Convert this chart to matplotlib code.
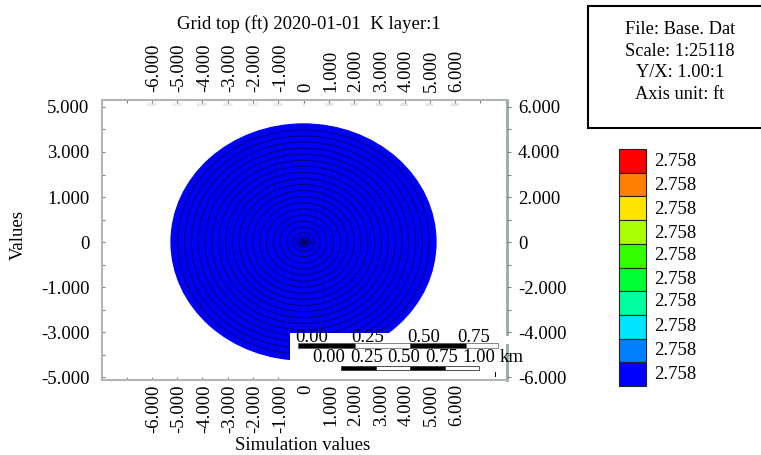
import matplotlib
matplotlib.use('Agg')
import matplotlib.pyplot as plt
from matplotlib.patches import Circle, Rectangle
from matplotlib.transforms import Affine2D

plt.rcParams['font.family'] = ['Liberation Serif', 'DejaVu Serif']
plt.rcParams['axes.unicode_minus'] = False

W, H = 761, 455
FS = 13.5

# data
x_ticks = [-7000, -6000, -5000, -4000, -3000, -2000, -1000, 0, 1000, 2000, 3000, 4000, 5000, 6000, 7000, 8000]
x_labels = ['', '-6.000', '-5.000', '-4.000', '-3.000', '-2.000', '-1.000', '0', '1.000', '2.000', '3.000', '4.000', '5.000', '6.000', '', '']
y_ticks = [6000, 4000, 2000, 0, -2000, -4000, -6000]
y_minor = [5000, 3000, 1000, -1000, -3000, -5000]
y_left_labels = ['5.000', '3.000', '1.000', '0', '-1.000', '-3.000', '-5.000']
y_right_labels = ['6.000', '4.000', '2.000', '0', '-2.000', '-4.000', '-6.000']
ring_radii = [5250, 4980, 4710, 4440, 4170, 3900, 3630, 3360, 3090, 2820, 2550, 2280,
              2010, 1740, 1470, 1200, 930, 660, 420, 260, 170, 110, 70, 35]
info_lines = ['File: Base. Dat', 'Scale: 1:25118', 'Y/X: 1.00:1', 'Axis unit: ft']
legend_colors = ['#ff0000', '#ff8000', '#ffe600', '#aaff00', '#33ff00',
                 '#00ff33', '#00ffa0', '#00e5ff', '#0080ff', '#0000ff']
legend_values = ['2.758'] * 10
scale_ft_labels = ['0.00', '0.25', '0.50', '0.75']
scale_km_labels = ['0.00', '0.25', '0.50', '0.75', '1.00']

fig = plt.figure(figsize=(W / 100, H / 100), dpi=100)

# main map
ax = fig.add_axes([102 / W, 1 - 380 / H, 405 / W, 280 / H])
ax.set_xlim(-7980, 8059)
ax.set_ylim(-6133, 6311)
for i, r in enumerate(ring_radii):
    edge = '#0000f5' if i == 0 else '#000080'
    ax.add_patch(Circle((0, 0), r, facecolor='#0000f5', edgecolor=edge, linewidth=0.8, snap=False))
ax.plot([0], [0], marker='x', markersize=3, color='#000033', markeredgewidth=0.7)
ax.text(180, -60, 'W-1', fontsize=3.5, color='#000033', va='center')

ax.set_xticks(x_ticks, x_labels, rotation=90, fontsize=FS)
ax.set_yticks(y_ticks, y_left_labels, fontsize=FS)
ax.set_yticks(y_minor, minor=True)
ax.tick_params(axis='x', direction='in', length=2, width=0.8, color='#808080',
               top=True, labeltop=True, pad=4.5)
ax.tick_params(axis='y', which='both', direction='in', length=2, width=0.8,
               color='#808080', pad=9)
# rotated labels sit a little right of and above the default spot
shift = Affine2D().translate(2, 2)
for tick in ax.xaxis.get_major_ticks():
    tick.label1.set_transform(tick.label1.get_transform() + shift)
    tick.label2.set_transform(tick.label2.get_transform() + shift)

# tiny faint tick values under the top edge
for t, lab in zip(x_ticks, x_labels):
    if lab:
        ax.text(t, 6100, lab, fontsize=3, color='#b0b0b0', ha='center', va='center')

for side in ['top', 'left', 'bottom']:
    ax.spines[side].set_color('#b4b4b4')
    ax.spines[side].set_linewidth(1.5)
ax.spines['right'].set_color('#93aaaa')
ax.spines['right'].set_linewidth(2)

ax_r = ax.twinx()
ax_r.set_ylim(ax.get_ylim())
ax_r.set_yticks(y_ticks, y_right_labels, fontsize=FS)
ax_r.set_yticks(y_minor, minor=True)
ax_r.tick_params(axis='y', which='both', direction='out', length=3, width=0.8,
                 color='#808080', pad=5)
for s in ax_r.spines.values():
    s.set_visible(False)

# overlay in pixel units for title, box, legend, scale bars
ov = fig.add_axes([0, 0, 1, 1], facecolor='none')
ov.set_xlim(0, W)
ov.set_ylim(H, 0)
ov.axis('off')

ov.text(309, 24, 'Grid top (ft) 2020-01-01  K layer:1', fontsize=FS, ha='center', va='center')
ov.text(303, 445.5, 'Simulation values', fontsize=FS, ha='center', va='center')
ov.text(18, 235, 'Values', fontsize=FS, rotation=90, ha='center', va='center')

# info box
ov.add_patch(Rectangle((588, 6), 180, 122, facecolor='white', edgecolor='black', linewidth=1.5))
for y, line in zip([29.5, 51, 72.5, 94.5], info_lines):
    ov.text(680, y, line, fontsize=13.2, ha='center', va='center')

# legend
label_y = [161.5, 185, 209.5, 233.5, 256, 279.5, 302, 326.5, 350.5, 374.5]
for i, (c, v) in enumerate(zip(legend_colors, legend_values)):
    ov.add_patch(Rectangle((619, 149 + i * 23.7), 27, 23.7, facecolor=c,
                           edgecolor='#222222', linewidth=0.8))
    ov.text(654, label_y[i], v, fontsize=FS, va='center', ha='left')

# white patch behind the scale bars
ov.add_patch(Rectangle((290, 333), 215, 46, facecolor='white', edgecolor='none'))
ov.add_patch(Rectangle((503, 336), 6, 8, facecolor='white', edgecolor='none'))

# upper scale bar
for x0, x1, c in [(298, 355, 'black'), (355, 410, 'white'), (410, 466, 'black'), (466, 498, 'white')]:
    ov.add_patch(Rectangle((x0, 343), x1 - x0, 4.5, facecolor=c, edgecolor='#555555', linewidth=0.5))
for x, lab in zip([312, 368, 424, 474], scale_ft_labels):
    ov.text(x, 338, lab, fontsize=FS, ha='center', va='center')

# lower scale bar
for x0, x1, c in [(341, 376, 'black'), (376, 410, 'white'), (410, 445, 'black'), (445, 479, 'white')]:
    ov.add_patch(Rectangle((x0, 365.5), x1 - x0, 4.5, facecolor=c, edgecolor='#333333', linewidth=0.6))
for x, lab in zip([329, 367, 404, 442, 479], scale_km_labels):
    ov.text(x, 358, lab, fontsize=FS, ha='center', va='center')
ov.text(512, 358, 'km', fontsize=FS, ha='center', va='center')
ov.plot([495, 495], [372, 376], color='black', linewidth=0.7)

fig.savefig('out.png', dpi=100)
